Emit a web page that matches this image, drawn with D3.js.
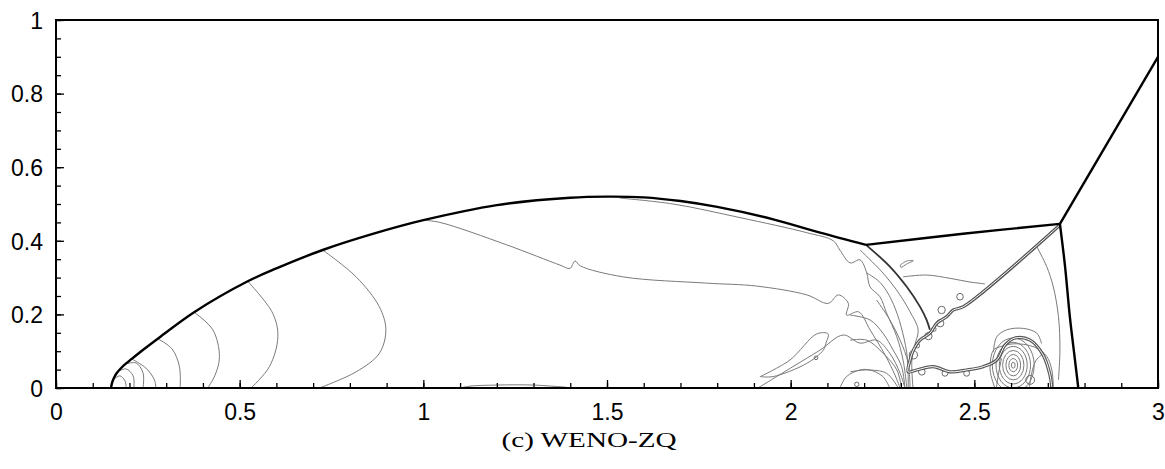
<!DOCTYPE html>
<html>
<head>
<meta charset="utf-8">
<script src="https://cdn.jsdelivr.net/npm/d3@7"></script>
<style>
  body { margin: 0; background: #fff; }
  svg { display: block; }
</style>
</head>
<body>
<svg width="1165" height="469"></svg>
<script>
// axis ticks
var xMajor = [0, 0.5, 1, 1.5, 2, 2.5, 3];
var xLabels = ["0", "0.5", "1", "1.5", "2", "2.5", "3"];
var yMajor = [0, 0.2, 0.4, 0.6, 0.8, 1];
var yLabels = ["0", "0.2", "0.4", "0.6", "0.8", "1"];
var caption = "(c) WENO-ZQ";

// shocks (x, y)
var bowShock = [[0.150,0.000],[0.152,0.012],[0.157,0.026],[0.165,0.040],[0.176,0.053],[0.190,0.066],
  [0.206,0.079],[0.240,0.106],[0.277,0.134],[0.376,0.206],[0.522,0.290],[0.600,0.325],[0.726,0.375],
  [0.860,0.418],[1.000,0.456],[1.200,0.497],[1.400,0.517],[1.500,0.520],[1.600,0.518],[1.700,0.508],
  [1.800,0.492],[1.950,0.459],[2.080,0.422],[2.205,0.389]];
var upperShock = [[2.205,0.389],[2.469,0.419],[2.733,0.446]];
var incidentShock = [[2.733,0.446],[3.0,0.900]];
var machStem = [[2.733,0.446],[2.747,0.330],[2.760,0.194],[2.774,0.076],[2.783,0.000]];
var reflectedShock = [[2.205,0.389],[2.270,0.330],[2.316,0.275],[2.352,0.221],[2.370,0.185],[2.379,0.158]];
var slipLine = [[2.733,0.443],[2.470,0.221],[2.443,0.212],[2.425,0.194],[2.398,0.176],[2.379,0.149],
  [2.352,0.130],[2.334,0.103],[2.325,0.076],[2.320,0.044],[2.343,0.049],[2.388,0.058],[2.434,0.044],
  [2.479,0.049],[2.524,0.058],[2.561,0.076],[2.584,0.117],[2.611,0.136],[2.652,0.130],[2.687,0.090],
  [2.706,0.035],[2.711,0.000]];

// density contours
var arcA = [[0.155,0.022],[0.174,0.033],[0.188,0.019],[0.191,0.000]];
var arcB = [[0.167,0.043],[0.190,0.052],[0.210,0.033],[0.212,0.000]];
var arcC = [[0.189,0.065],[0.218,0.068],[0.237,0.041],[0.237,0.000]];
var arc1 = [[0.206,0.079],[0.245,0.054],[0.268,0.022],[0.272,0.000]];
var arc2 = [[0.277,0.134],[0.316,0.106],[0.336,0.058],[0.338,0.000]];
var arc3 = [[0.376,0.206],[0.427,0.158],[0.445,0.085],[0.433,0.035],[0.413,0.000]];
var arc4 = [[0.522,0.290],[0.590,0.203],[0.604,0.139],[0.581,0.058],[0.531,0.000]];
var arc5 = [[0.726,0.375],[0.817,0.302],[0.880,0.221],[0.898,0.158],[0.880,0.094],[0.817,0.044],[0.717,0.000]];
var lineA = [[1.535,0.516],[1.680,0.500],[1.862,0.463],[2.044,0.422],[2.116,0.400],[2.134,0.375],
  [2.162,0.340],[2.189,0.348],[2.207,0.313],[2.216,0.275],[2.243,0.248],[2.261,0.204],[2.289,0.139],
  [2.306,0.076],[2.316,0.003]];
var lineB = [[1.000,0.456],[1.045,0.450],[1.227,0.389],[1.372,0.334],[1.399,0.325],[1.413,0.345],
  [1.427,0.332],[1.544,0.302],[1.771,0.285],[1.907,0.277],[2.044,0.253],[2.102,0.230],[2.130,0.253],
  [2.157,0.230],[2.152,0.198],[2.185,0.207],[2.216,0.158],[2.257,0.090],[2.284,0.035],[2.298,0.000]];
var fan1 = [[2.162,0.198],[2.216,0.185],[2.251,0.149],[2.279,0.103],[2.302,0.058],[2.311,0.000]];
var fan2 = [[2.162,0.130],[2.207,0.130],[2.251,0.095],[2.289,0.049],[2.302,0.000]];
var fan3 = [[2.162,0.044],[2.207,0.049],[2.261,0.040],[2.293,0.000]];
var fan4 = [[2.234,0.239],[2.270,0.185],[2.298,0.130],[2.320,0.067],[2.325,0.000]];
var fan5 = [[2.189,0.375],[2.249,0.315],[2.292,0.261],[2.325,0.207],[2.347,0.158],[2.338,0.117],[2.330,0.076],[2.333,0.000]];
var fan6 = [[2.207,0.313],[2.240,0.290],[2.262,0.262],[2.285,0.215],[2.305,0.150],[2.318,0.080],[2.320,0.000]];
var lowLeft = [[1.911,0.000],[2.006,0.058],[2.080,0.103],[2.143,0.144],[2.189,0.122],[2.234,0.130],[2.270,0.094],[2.298,0.040],[2.311,0.000]];
var loopLeft = [[1.917,0.031],[1.998,0.076],[2.071,0.147],[2.102,0.147],[2.096,0.122],[2.089,0.103],[2.044,0.067],[1.952,0.031],[1.917,0.031]];
var bumpLow = [[2.134,0.000],[2.152,0.031],[2.189,0.049],[2.216,0.049],[2.251,0.031],[2.270,0.000]];
var bumpMid = [[1.100,0.000],[1.127,0.005],[1.200,0.008],[1.299,0.008],[1.390,0.002]];
var flag = [[2.298,0.334],[2.316,0.345],[2.334,0.346],[2.316,0.337],[2.300,0.328],[2.298,0.334]];
var wavyMid = [[2.306,0.302],[2.370,0.307],[2.434,0.298],[2.488,0.288],[2.529,0.283]];
var rightCurve = [[2.670,0.384],[2.697,0.330],[2.715,0.275],[2.729,0.194],[2.733,0.103],[2.729,0.022]];
var capOuter = [[2.552,0.098],[2.561,0.139],[2.588,0.158],[2.633,0.162],[2.670,0.149],[2.683,0.121]];
var capInner = [[2.556,0.000],[2.543,0.049],[2.552,0.103],[2.570,0.112],[2.606,0.120],[2.643,0.117],
  [2.670,0.108],[2.697,0.086],[2.711,0.049],[2.715,0.004]];
var stemLeft = [[2.560,0.000],[2.566,0.040],[2.574,0.080]];
var stemRight = [[2.650,0.000],[2.655,0.035],[2.668,0.075],[2.690,0.095]];
var contours = [arcA, arcB, arcC, arc1, arc2, arc3, arc4, arc5, lineA, lineB, fan1, fan2, fan3, fan4, fan5,
  fan6, lowLeft, loopLeft, bumpLow, bumpMid, flag, wavyMid, rightCurve, capOuter, capInner, stemLeft, stemRight];

// small vortices: centre x, centre y, radius
var vortexX = [2.407, 2.375, 2.334, 2.357, 2.420, 2.479, 2.411, 2.461, 2.069, 2.180, 2.652, 2.390, 2.345];
var vortexY = [0.176, 0.141, 0.090, 0.044, 0.040, 0.040, 0.212, 0.248, 0.082, 0.010, 0.022, 0.160, 0.115];
var vortexR = [0.010, 0.010, 0.011, 0.009, 0.008, 0.008, 0.010, 0.009, 0.005, 0.006, 0.012, 0.006, 0.006];
// mushroom rings
var ringX = 2.606, ringY = 0.062;
var ringRx = [0.005, 0.012, 0.020, 0.029, 0.038, 0.047, 0.057];
var ringRy = [0.008, 0.018, 0.029, 0.040, 0.051, 0.062, 0.074];

var svg = d3.select("svg"),
    margin = {left: 56, right: 7, top: 20, bottom: 81},
    width = 1165 - margin.left - margin.right,
    height = 469 - margin.top - margin.bottom;

var x = d3.scaleLinear().domain([0, 3]).range([0, width]);
var y = d3.scaleLinear().domain([0, 1]).range([height, 0]);

var g = svg.append("g")
  .attr("transform", "translate(" + margin.left + "," + margin.top + ")");

g.append("clipPath").attr("id", "plot")
  .append("rect").attr("width", width).attr("height", height);

var line = d3.line()
  .curve(d3.curveCatmullRom.alpha(0.5))
  .x(function(d) { return x(d[0]); })
  .y(function(d) { return y(d[1]); });

var field = g.append("g").attr("clip-path", "url(#plot)");

field.selectAll(".contour")
  .data(contours)
  .enter().append("path")
  .attr("class", "contour")
  .attr("d", line)
  .style("fill", "none")
  .style("stroke", "#7a7a7a")
  .style("stroke-width", 1);

var rings = ringRx.map(function(d, i) { return {rx: d, ry: ringRy[i]}; });
field.selectAll(".ring")
  .data(rings)
  .enter().append("ellipse")
  .attr("cx", x(ringX))
  .attr("cy", y(ringY))
  .attr("rx", function(d) { return x(d.rx) - x(0); })
  .attr("ry", function(d) { return y(0) - y(d.ry); })
  .style("fill", "none")
  .style("stroke", "#7a7a7a")
  .style("stroke-width", 1);

field.selectAll(".vortex")
  .data(vortexX)
  .enter().append("circle")
  .attr("cx", function(d) { return x(d); })
  .attr("cy", function(d, i) { return y(vortexY[i]); })
  .attr("r", function(d, i) { return x(vortexR[i]) - x(0); })
  .style("fill", "none")
  .style("stroke", "#6a6a6a")
  .style("stroke-width", 1);

// slip line drawn doubled
field.append("path").datum(slipLine)
  .attr("d", line)
  .style("fill", "none")
  .style("stroke", "#555")
  .style("stroke-width", 3.2);
field.append("path").datum(slipLine)
  .attr("d", line)
  .style("fill", "none")
  .style("stroke", "#fff")
  .style("stroke-width", 1);

field.append("path").datum(reflectedShock)
  .attr("d", line)
  .style("fill", "none")
  .style("stroke", "#333")
  .style("stroke-width", 1.8);

[bowShock, upperShock, incidentShock, machStem].forEach(function(s) {
  field.append("path").datum(s)
    .attr("d", line)
    .style("fill", "none")
    .style("stroke", "#000")
    .style("stroke-width", 2.4);
});

// axes with inward ticks
var xAxis = g.append("g").attr("transform", "translate(0," + height + ")")
  .call(d3.axisBottom(x).tickValues(d3.range(0, 3.001, 0.1)).tickSize(-5).tickFormat(""));
xAxis.append("g")
  .call(d3.axisBottom(x).tickValues(xMajor).tickSize(-8).tickFormat(function(d, i) { return xLabels[i]; }));

var yAxis = g.append("g")
  .call(d3.axisLeft(y).tickValues(d3.range(0, 1.001, 0.05)).tickSize(-5).tickFormat(""));
yAxis.append("g")
  .call(d3.axisLeft(y).tickValues(yMajor).tickSize(-8).tickFormat(function(d, i) { return yLabels[i]; }));

g.selectAll(".domain").remove();
g.selectAll(".tick line").style("stroke", "#000").style("stroke-width", 1.3);

xAxis.selectAll("text")
  .attr("y", 16)
  .attr("dy", "0.71em")
  .style("font-family", "Liberation Sans, Arial, sans-serif")
  .style("font-size", "23px")
  .style("fill", "#000");
yAxis.selectAll("text")
  .attr("x", -13)
  .attr("dy", "0.36em")
  .style("font-family", "Liberation Sans, Arial, sans-serif")
  .style("font-size", "23px")
  .style("fill", "#000");

g.append("rect")
  .attr("width", width)
  .attr("height", height)
  .style("fill", "none")
  .style("stroke", "#000")
  .style("stroke-width", 2);

svg.append("text")
  .attr("x", 589)
  .attr("y", 447)
  .attr("text-anchor", "middle")
  .attr("textLength", 175)
  .attr("lengthAdjust", "spacingAndGlyphs")
  .style("font-family", "Liberation Serif, DejaVu Serif, serif")
  .style("font-size", "20px")
  .text(caption);
</script>
</body>
</html>
